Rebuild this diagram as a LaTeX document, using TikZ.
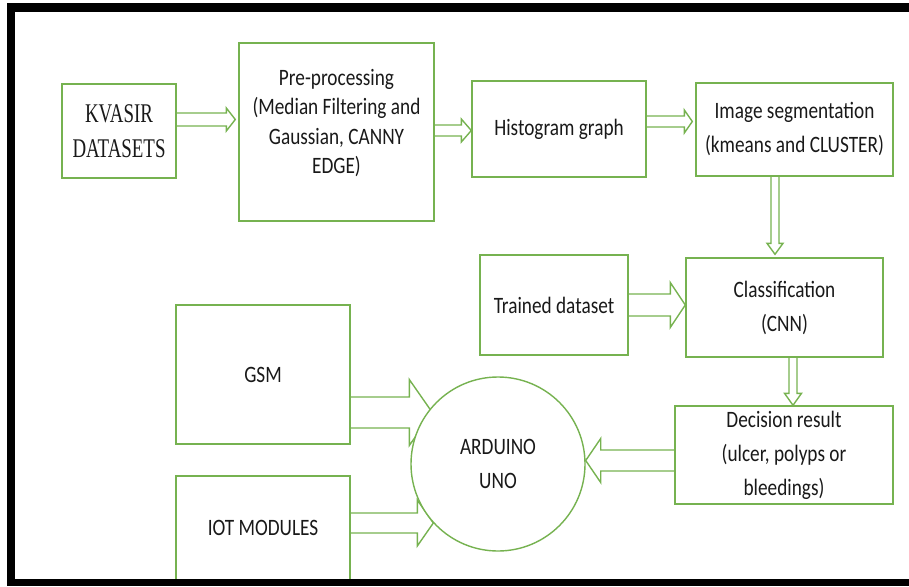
\documentclass[tikz,border=0pt]{standalone}
\usepackage{fontspec}
\usepackage{tikz}
\usetikzlibrary{calc,backgrounds}
\newfontfamily\blockfont[FakeStretch=0.82]{Carlito}
\newfontfamily\datafont[FakeStretch=0.7]{Liberation Serif}
\definecolor{leaf}{RGB}{118,178,80}
\definecolor{ink}{RGB}{25,25,25}
\tikzset{
  stage/.style={draw=leaf,line width=1.4pt,inner sep=0pt,align=center,text=ink,
    font=\blockfont\fontsize{23.5}{34}\selectfont},
  hub/.style={stage,circle,fill=white},
  fatarrow/.style={draw=leaf,line width=1.4pt,line join=miter}
}
% hollow block arrow: start, end, shaft half width, head half width, head length
\newcommand{\blockarrow}[5]{%
  \draw[fatarrow] let \p1=#1, \p2=#2,
    \n1={veclen(\x2-\x1,\y2-\y1)}, \n2={atan2(\y2-\y1,\x2-\x1)} in
    [shift={(\p1)}, rotate=\n2]
    (0pt,#3pt) -- (\n1-#5pt,#3pt) -- (\n1-#5pt,#4pt) -- (\n1,0pt)
    -- (\n1-#5pt,-#4pt) -- (\n1-#5pt,-#3pt) -- (0pt,-#3pt);}

\begin{document}
\begin{tikzpicture}[x=1pt,y=-1pt]
\useasboundingbox (0,0) rectangle (909,586);

% processing chain
\node[stage,minimum width=114,minimum height=94,
  font=\datafont\fontsize{27}{35}\selectfont] (kvasir) at (119,131) {KVASIR\\DATASETS};
\node[stage,minimum width=195,minimum height=178,
  label={[align=center,text=ink,yshift=9pt,font=\blockfont\fontsize{23.5}{29.5}\selectfont]center:
  Pre-processing\\(Median Filtering and\\Gaussian, CANNY\\EDGE)}] (pre) at (336.5,132) {};
\node[stage,minimum width=174,minimum height=96] (hist) at (559,129) {Histogram graph};
\node[stage,minimum width=197,minimum height=93] (seg) at (794.5,129.5)
  {Image segmentation\\(kmeans and CLUSTER)};
\node[stage,minimum width=148,minimum height=100] (trained) at (554,305) {Trained dataset};
\node[stage,minimum width=197,minimum height=99] (class) at (784.5,307.5)
  {Classification\\(CNN)};
\node[stage,minimum width=218,minimum height=98] (decision) at (784,455)
  {Decision result\\(ulcer, polyps or\\bleedings)};

% hardware side
\node[stage,minimum width=174,minimum height=139] (gsm) at (263,374.5) {GSM};
\node[stage,minimum width=174,minimum height=104] (iot) at (263,528) {IOT MODULES};
\node[hub,minimum size=174] (arduino) at (498,464) {ARDUINO\\UNO};

\blockarrow{($(kvasir.east)+(0,-11.5)$)}{($(pre.west)+(-3,-12.5)$)}{6.5}{11.5}{9}
\blockarrow{($(pre.east)+(0,-1.5)$)}{($(hist.west)+(0,1.5)$)}{5.5}{11.5}{10}
\blockarrow{($(hist.east)+(0,-7.5)$)}{($(seg.west)+(-3,-8)$)}{5.5}{11.5}{8}
\blockarrow{($(seg.south)+(-19.5,0)$)}{($(class.north)+(-9.5,-3)$)}{4}{8}{11}
\blockarrow{(trained.east)}{($(class.west)+(0,-2.5)$)}{11}{22.5}{15}
\blockarrow{($(class.south)+(8.5,0)$)}{($(decision.north)+(9,0)$)}{4}{8.5}{12}
\blockarrow{($(decision.west)+(0,5.5)$)}{($(arduino.east)+(0,-3.5)$)}{10.5}{22}{15}
\begin{pgfonlayer}{background}
\blockarrow{($(gsm.east)+(0,38)$)}{($(arduino.west)+(22,-51.5)$)}{15.5}{33}{23}
\blockarrow{($(iot.east)+(0,-5)$)}{($(arduino.west)+(23,59)$)}{10}{23}{16}
\end{pgfonlayer}

% frame
\fill[black] (7,3) rectangle (909,12);
\fill[black] (7,3) rectangle (15,586);
\fill[black] (7,579) rectangle (909,586);
\end{tikzpicture}
\end{document}
